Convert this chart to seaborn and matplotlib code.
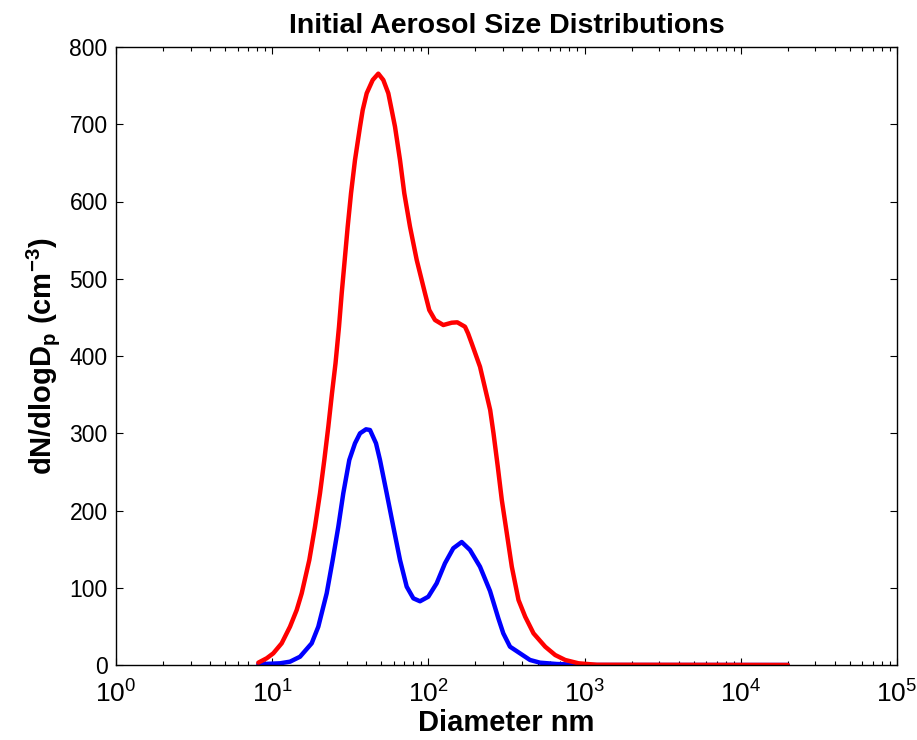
import numpy as np
import pandas as pd
import matplotlib
matplotlib.use("Agg")
import matplotlib.pyplot as plt
import seaborn as sns

# Particle number size distributions dN/dlogDp (cm^-3) versus diameter (nm)
blue_diameter = [8.15, 11.22, 13.0, 15.07, 17.9, 19.73, 22.33, 24.39, 26.5, 28.52,
                 31.16, 33.89, 36.49, 39.86, 42.27, 46.19, 48.98, 54.08, 59.62, 65.8,
                 72.62, 80.09, 88.35, 99.86, 113.0, 127.7, 144.3, 163.4, 184.6, 214.0,
                 248.0, 280.3, 301.6, 333.0, 385.9, 447.2, 518.2, 662.8, 1000.0, 20000.0]
blue_dndlogdp = [1.0, 2.2, 4.3, 10.7, 28.1, 49.6, 92.8, 135.9, 179.0, 222.3,
                 265.4, 287.0, 299.9, 305.1, 304.2, 287.0, 265.4, 222.3, 179.0, 135.9,
                 101.4, 86.3, 82.5, 88.4, 105.8, 131.7, 151.1, 159.2, 148.9, 127.2,
                 95.8, 60.5, 41.0, 23.7, 15.1, 6.5, 3.0, 1.3, 0.0, 0.0]

red_diameter = [8.15, 9.22, 10.16, 11.5, 13.0, 14.35, 15.45, 17.28, 18.79, 20.23,
                21.56, 22.87, 24.14, 25.43, 26.77, 27.86, 29.12, 30.43, 31.96, 33.89,
                36.49, 37.97, 40.27, 44.0, 47.78, 51.44, 55.38, 58.21, 61.12, 65.8,
                70.09, 76.24, 84.18, 95.1, 101.3, 110.2, 124.6, 141.0, 153.1, 171.5,
                179.3, 189.3, 214.0, 248.6, 261.1, 278.1, 295.1, 317.7, 342.0, 377.5,
                416.6, 470.9, 559.5, 648.3, 751.3, 914.0, 1200.0, 20000.0]
red_dndlogdp = [3.0, 8.7, 15.1, 28.1, 49.6, 71.2, 92.8, 135.9, 179.0, 222.3,
                265.4, 308.5, 351.7, 390.5, 437.9, 481.2, 524.3, 567.4, 610.6, 653.7,
                696.8, 718.4, 740.1, 757.3, 765.5, 757.3, 740.1, 718.4, 696.8, 653.7,
                610.6, 567.4, 524.3, 481.2, 459.5, 446.6, 440.1, 443.1, 443.6, 437.9,
                429.4, 416.4, 386.1, 330.1, 299.9, 256.7, 213.6, 170.5, 127.2, 84.1,
                62.5, 41.0, 23.7, 12.9, 6.5, 2.2, 0.3, 0.0]

series_names = ["blue", "red"]
series_colors = {"blue": "#0000ff", "red": "#ff0000"}

xtick_values = [1e0, 1e1, 1e2, 1e3, 1e4, 1e5]
ytick_values = [0, 100, 200, 300, 400, 500, 600, 700, 800]

df = pd.concat([
    pd.DataFrame({"diameter": blue_diameter, "dndlogdp": blue_dndlogdp, "series": "blue"}),
    pd.DataFrame({"diameter": red_diameter, "dndlogdp": red_dndlogdp, "series": "red"}),
], ignore_index=True)

sns.set_theme(style="ticks")
plt.rcParams["font.family"] = ["Liberation Sans", "DejaVu Sans"]
plt.rcParams["axes.edgecolor"] = "black"
plt.rcParams["axes.linewidth"] = 1.0
plt.rcParams["text.color"] = "black"
plt.rcParams["axes.labelcolor"] = "black"
plt.rcParams["xtick.color"] = "black"
plt.rcParams["ytick.color"] = "black"
plt.rcParams["lines.solid_joinstyle"] = "round"

fig = plt.figure(figsize=(9.17, 7.40), dpi=100)
ax = fig.add_axes([116 / 917, 1 - 665 / 740, (897 - 116) / 917, (665 - 47) / 740])

sns.lineplot(data=df, x="diameter", y="dndlogdp", hue="series",
             hue_order=series_names, palette=series_colors,
             estimator=None, sort=True, linewidth=3.2, legend=False, ax=ax)

ax.set_xscale("log")
ax.set_xlim(xtick_values[0], xtick_values[-1])
ax.set_ylim(ytick_values[0], ytick_values[-1])
ax.set_xticks(xtick_values)
ax.set_yticks(ytick_values)
ax.xaxis.set_minor_locator(matplotlib.ticker.LogLocator(base=10, subs=np.arange(2, 10)))
ax.xaxis.set_minor_formatter(matplotlib.ticker.NullFormatter())

ax.tick_params(which="both", direction="in", top=True, right=True,
               colors="black", width=0.8)
ax.tick_params(which="major", length=5)
ax.tick_params(which="minor", length=2.6)
ax.tick_params(axis="x", which="major", labelsize=19, pad=11)
ax.tick_params(axis="y", which="major", labelsize=16.5, pad=6)

for side in ["top", "right", "bottom", "left"]:
    ax.spines[side].set_visible(True)
    ax.spines[side].set_color("black")

ax.set_title("Initial Aerosol Size Distributions", fontsize=20.5,
             fontweight="bold", pad=10)
ax.set_xlabel("Diameter nm", fontsize=21, fontweight="bold", labelpad=1)
ax.set_ylabel(r"dN/dlogD$_\mathdefault{p}$ (cm$^\mathdefault{-3}$)",
              fontsize=21, fontweight="bold", labelpad=5)

fig.savefig("out.png", dpi=100, facecolor="white")
